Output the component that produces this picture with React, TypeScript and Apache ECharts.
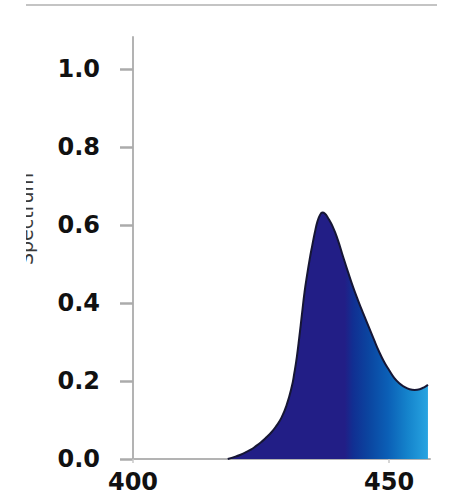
import React, { useEffect, useRef } from "react";
import * as echarts from "echarts";

const wavelengths = [418.5, 420, 421, 422, 423, 424, 425, 426, 427, 428, 429, 430, 431, 431.5, 432, 432.5, 433, 433.5, 434, 434.5, 435, 435.5, 436, 436.5, 437, 437.5, 438, 439, 440, 441, 442, 443, 444, 445, 446, 447, 448, 449, 450, 451, 452, 453, 454, 455, 456, 457, 457.6];
const spectrum = [0, 0.006, 0.011, 0.017, 0.024, 0.033, 0.043, 0.055, 0.068, 0.085, 0.106, 0.138, 0.185, 0.22, 0.262, 0.315, 0.372, 0.428, 0.472, 0.512, 0.547, 0.58, 0.608, 0.625, 0.632, 0.629, 0.62, 0.596, 0.562, 0.52, 0.479, 0.44, 0.405, 0.372, 0.34, 0.308, 0.277, 0.25, 0.228, 0.208, 0.194, 0.185, 0.179, 0.177, 0.179, 0.185, 0.19];
const yTicks = [0, 0.2, 0.4, 0.6, 0.8, 1.0];
const xTicks = [400, 450];
const yName = "Spectrum";

export default function App() {
  const ref = useRef<HTMLDivElement>(null);
  useEffect(() => {
    if (!ref.current) return;
    const chart = echarts.init(ref.current, null, { renderer: "svg" });
    const data = wavelengths.map((w, i) => [w, spectrum[i]]);
    chart.setOption({
      animation: false,
      backgroundColor: "#ffffff",
      grid: { left: 133, right: 19, top: 37, bottom: 37 },
      xAxis: {
        type: "value",
        min: 400,
        max: 458,
        splitLine: { show: false },
        axisLine: { lineStyle: { color: "#b3b3b3", width: 2 } },
        axisTick: { customValues: xTicks, length: 4, lineStyle: { color: "#c8c8c8", width: 1.5 } },
        axisLabel: {
          customValues: xTicks,
          margin: 11,
          fontFamily: "DejaVu Sans",
          fontWeight: "bold",
          fontSize: 24,
          color: "#111111",
        },
      },
      yAxis: {
        type: "value",
        min: 0,
        max: 1.082,
        splitLine: { show: false },
        axisLine: { show: true, lineStyle: { color: "#b3b3b3", width: 2 } },
        axisTick: { show: true, customValues: yTicks, length: 13, lineStyle: { color: "#ababab", width: 2.5 } },
        axisLabel: {
          customValues: yTicks,
          margin: 33,
          formatter: (v: number) => v.toFixed(1),
          fontFamily: "DejaVu Sans",
          fontWeight: "bold",
          fontSize: 24,
          color: "#111111",
        },
      },
      series: [
        {
          type: "line",
          data,
          smooth: 0.5,
          symbol: "none",
          lineStyle: { color: "#161634", width: 2 },
          areaStyle: {
            opacity: 1,
            color: new echarts.graphic.LinearGradient(0, 0, 1, 0, [
              { offset: 0, color: "#221e86" },
              { offset: 0.585, color: "#221e86" },
              { offset: 0.625, color: "#112f92" },
              { offset: 0.7, color: "#0b449f" },
              { offset: 0.8, color: "#0b5fb6" },
              { offset: 0.9, color: "#1584cc" },
              { offset: 1, color: "#28a4e1" },
            ]),
          },
        },
      ],
      graphic: [
        {
          type: "line",
          shape: { x1: 26, y1: 5, x2: 437, y2: 5 },
          style: { stroke: "#c4c4c4", lineWidth: 2 },
          z: 10,
        },
        {
          type: "text",
          x: 26,
          y: 219,
          rotation: Math.PI / 2,
          style: {
            text: yName,
            fontFamily: "DejaVu Sans",
            fontSize: 19,
            fill: "#3a3a3a",
            align: "center",
            verticalAlign: "middle",
          },
          z: 10,
        },
        {
          type: "rect",
          shape: { x: 0, y: 150, width: 26, height: 140 },
          style: { fill: "#ffffff" },
          z: 11,
        },
      ],
    });
    return () => chart.dispose();
  }, []);
  return <div ref={ref} style={{ width: 449, height: 496, position: "absolute", left: 0, top: 0 }} />;
}
